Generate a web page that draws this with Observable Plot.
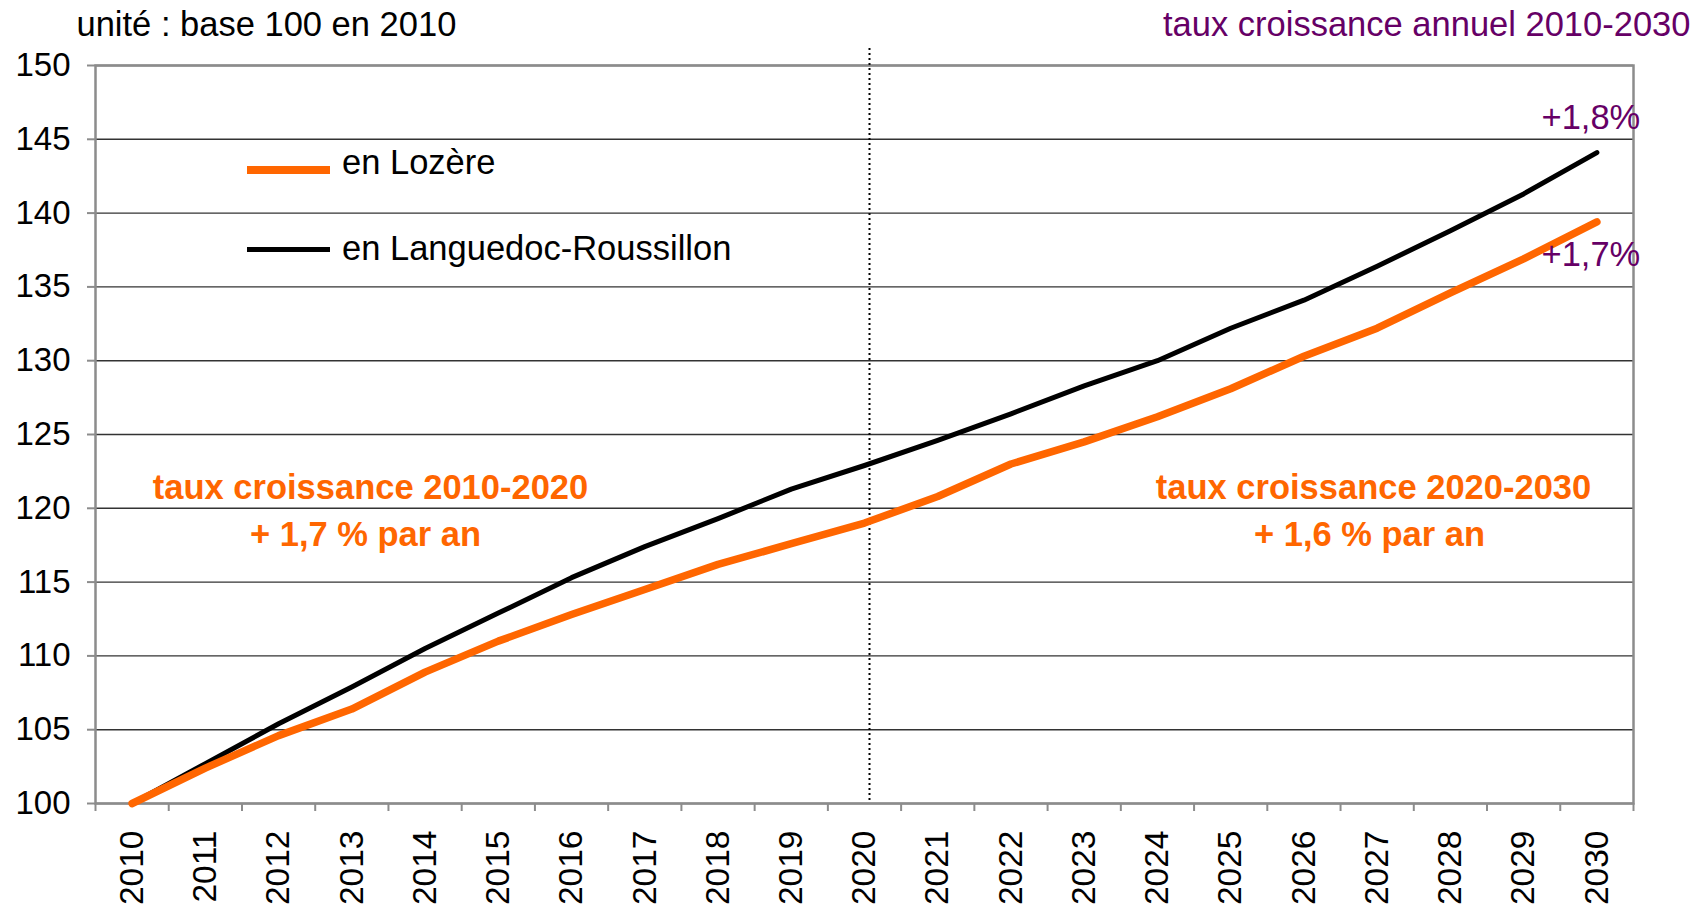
<!DOCTYPE html>
<html>
<head>
<meta charset="utf-8">
<script src="https://cdn.jsdelivr.net/npm/d3@7"></script>
<script src="https://cdn.jsdelivr.net/npm/@observablehq/plot@0.6"></script>
<style>
  body { margin: 0; background: white; }
  #wrap { position: relative; width: 1696px; height: 904px; font-family: Arial, "Liberation Sans", sans-serif; }
  .leg { position: absolute; font-size: 34.5px; color: #000; white-space: nowrap; }
  .sw { position: absolute; }
</style>
</head>
<body>
<div id="wrap"></div>
<script>
// ---- data ----
const years = [2010,2011,2012,2013,2014,2015,2016,2017,2018,2019,2020,2021,2022,2023,2024,2025,2026,2027,2028,2029,2030];
const lozere = [100,102.4,104.6,106.4,108.9,111.0,112.8,114.5,116.2,117.6,119.0,120.8,123.0,124.5,126.2,128.1,130.3,132.2,134.6,136.9,139.4];
const languedoc = [100,102.7,105.4,107.9,110.5,112.9,115.3,117.4,119.3,121.3,122.9,124.6,126.4,128.3,130.0,132.2,134.1,136.4,138.8,141.3,144.1];
const yTicks = [100,105,110,115,120,125,130,135,140,145,150];
const seriesNames = ["en Lozère", "en Languedoc-Roussillon"];
const endLabels = ["+1,7%", "+1,8%"];
const splitYear = 2020;
const titleLeft = "unité : base 100 en 2010";
const titleRight = "taux croissance annuel 2010-2030";
const noteLeft = ["taux croissance 2010-2020", "+ 1,7 % par an"];
const noteRight = ["taux croissance 2020-2030", "+ 1,6 % par an"];

const orange = "#FF6600", purple = "#660066";
const rows = (vals) => years.map((y, i) => ({year: y, value: vals[i]}));
const bounds = [...years.map(y => y - 0.5), years[years.length - 1] + 0.5];
const last = years.length - 1;
const FS = 34.5;

const chart = Plot.plot({
  width: 1696, height: 904,
  marginLeft: 95, marginRight: 63, marginTop: 65, marginBottom: 101,
  style: {fontFamily: 'Arial, "Liberation Sans", sans-serif', fontSize: "33px", background: "white", color: "#000"},
  x: {domain: [bounds[0], bounds[bounds.length - 1]], axis: null},
  y: {domain: [100, 150], axis: null},
  marks: [
    Plot.ruleY(yTicks, {stroke: "#333", strokeWidth: 1.4}),
    Plot.frame({stroke: "#8c8c8c", strokeWidth: 2.5}),
    Plot.axisY({ticks: yTicks, tickSize: 8, tickPadding: 17, tickFormat: d => String(d), label: null, stroke: "#8c8c8c", strokeWidth: 2, fill: "#000", fontSize: 33}),
    Plot.axisX({ticks: bounds, tickSize: 8, tickFormat: () => "", label: null, stroke: "#8c8c8c", strokeWidth: 2}),
    Plot.text(years, {x: d => d, text: d => String(d), frameAnchor: "bottom", dy: 27, rotate: -90, textAnchor: "end", lineAnchor: "middle", fontSize: 33.5, fill: "#000"}),
    Plot.ruleX([splitYear], {stroke: "#000", strokeWidth: 2, strokeDasharray: "2,3", insetTop: -17, dx: 5}),
    Plot.line(rows(languedoc), {x: "year", y: "value", stroke: "#000", strokeWidth: 5}),
    Plot.line(rows(lozere), {x: "year", y: "value", stroke: orange, strokeWidth: 7.5}),
    Plot.text([{year: years[last], value: languedoc[last], t: endLabels[1]}], {x: "year", y: "value", text: "t", dy: -35, dx: -6, fill: purple, fontSize: FS}),
    Plot.text([{year: years[last], value: lozere[last], t: endLabels[0]}], {x: "year", y: "value", text: "t", dy: 33, dx: -6, fill: purple, fontSize: FS}),
    Plot.text([titleLeft], {frameAnchor: "top-left", dx: -19, dy: -41, textAnchor: "start", lineAnchor: "middle", fontSize: FS, fill: "#000"}),
    Plot.text([titleRight], {frameAnchor: "top-right", dx: 57, dy: -41, textAnchor: "end", lineAnchor: "middle", fontSize: FS, fill: purple}),
    Plot.text([noteLeft[0]], {frameAnchor: "top-left", dx: 275, dy: 422, textAnchor: "middle", lineAnchor: "middle", fontSize: FS, fontWeight: "bold", fill: orange}),
    Plot.text([noteLeft[1]], {frameAnchor: "top-left", dx: 270, dy: 469, textAnchor: "middle", lineAnchor: "middle", fontSize: FS, fontWeight: "bold", fill: orange}),
    Plot.text([noteRight[0]], {frameAnchor: "top-right", dx: -260, dy: 422, textAnchor: "middle", lineAnchor: "middle", fontSize: FS, fontWeight: "bold", fill: orange}),
    Plot.text([noteRight[1]], {frameAnchor: "top-right", dx: -264, dy: 469, textAnchor: "middle", lineAnchor: "middle", fontSize: FS, fontWeight: "bold", fill: orange})
  ]
});
const wrap = document.getElementById("wrap");
wrap.appendChild(chart);

// legend (inside the plot area, as an HTML overlay)
const legend = [
  {name: seriesNames[0], color: orange, w: 7.5, top: 170, textTop: 162},
  {name: seriesNames[1], color: "#000", w: 5, top: 249, textTop: 248}
];
legend.forEach(l => {
  const sw = document.createElement("div");
  sw.className = "sw";
  sw.style.left = "247px"; sw.style.width = "83px";
  sw.style.top = (l.top - l.w / 2) + "px"; sw.style.height = l.w + "px";
  sw.style.background = l.color;
  wrap.appendChild(sw);
  const tx = document.createElement("div");
  tx.className = "leg";
  tx.textContent = l.name;
  tx.style.left = "342px";
  tx.style.top = (l.textTop - 20) + "px";
  tx.style.lineHeight = "40px";
  wrap.appendChild(tx);
});
</script>
</body>
</html>
